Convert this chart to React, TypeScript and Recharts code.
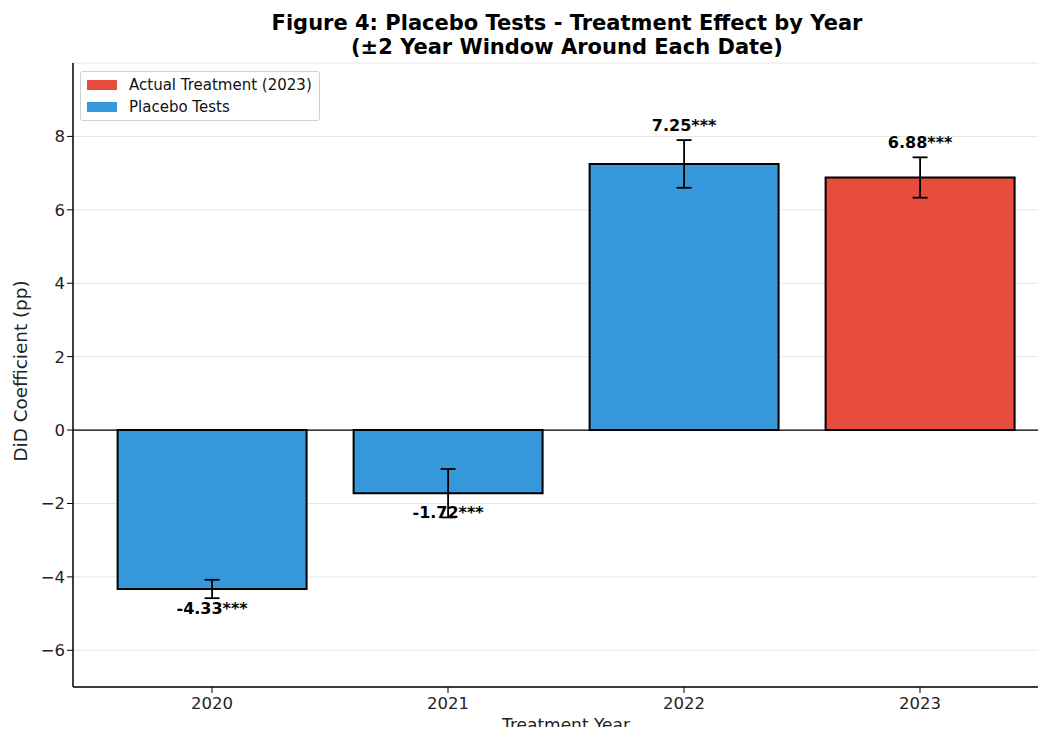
import React from 'react';
import {
  BarChart,
  Bar,
  Cell,
  XAxis,
  YAxis,
  CartesianGrid,
  ErrorBar,
  LabelList,
  ReferenceLine,
} from 'recharts';

const years = ['2020', '2021', '2022', '2023'];
const coefficients = [-4.33, -1.72, 7.25, 6.88];
const errors = [0.25, 0.66, 0.65, 0.55];
const stars = ['***', '***', '***', '***'];
const treatmentYear = '2023';
const yTicks = [-6, -4, -2, 0, 2, 4, 6, 8];

const BLUE = '#3498db';
const RED = '#e74c3c';
const FONT = '"DejaVu Sans", sans-serif';

const data = years.map((year, i) => ({
  year,
  coef: coefficients[i],
  err: errors[i],
  label: `${coefficients[i].toFixed(2)}${stars[i]}`,
}));

// value label: above the error bar for positives, just under the bar for negatives
function BarValueLabel(props: any) {
  const { x, y, width, height, index } = props;
  const d = data[index];
  if (!d || !height) return null;
  const top = Math.min(y, y + height);
  const bottom = Math.max(y, y + height);
  const pxPerUnit = Math.abs(height) / Math.abs(d.coef);
  const zeroY = d.coef >= 0 ? bottom : top;
  const target = d.coef >= 0 ? d.coef + d.err + 0.25 : d.coef - 0.36;
  const ty = zeroY - target * pxPerUnit;
  return (
    <text
      x={x + width / 2}
      y={ty}
      textAnchor="middle"
      dominantBaseline={d.coef >= 0 ? 'auto' : 'hanging'}
      fontFamily={FONT}
      fontWeight="bold"
      fontSize={16}
      fill="#000"
    >
      {d.label}
    </text>
  );
}

function LegendBox() {
  const items = [
    { name: 'Actual Treatment (2023)', color: RED },
    { name: 'Placebo Tests', color: BLUE },
  ];
  return (
    <div
      style={{
        position: 'absolute',
        top: 71,
        left: 80,
        border: '1px solid #d0d0d0',
        borderRadius: 3,
        background: 'rgba(255,255,255,0.85)',
        padding: '2px 7px 2px 6px',
        fontFamily: FONT,
        fontSize: 15,
        color: '#111',
        whiteSpace: 'nowrap',
      }}
    >
      {items.map((it) => (
        <div key={it.name} style={{ display: 'flex', alignItems: 'center', height: 22 }}>
          <span
            style={{
              display: 'inline-block',
              width: 30,
              height: 10,
              background: it.color,
              marginRight: 12,
              flexShrink: 0,
            }}
          />
          {it.name}
        </div>
      ))}
    </div>
  );
}

export default function App() {
  return (
    <div
      style={{
        position: 'relative',
        margin: -8,
        width: 1046,
        height: 735,
        overflow: 'hidden',
        background: '#fff',
        fontFamily: FONT,
      }}
    >
      <div
        style={{
          position: 'absolute',
          top: 11,
          left: 0,
          width: 1134,
          textAlign: 'center',
          fontWeight: 'bold',
          fontSize: 21,
          lineHeight: '24px',
          color: '#000',
        }}
      >
        Figure 4: Placebo Tests - Treatment Effect by Year
        <br />
        (±2 Year Window Around Each Date)
      </div>
      <div style={{ position: 'absolute', top: 0, left: 0 }}>
        <BarChart
          width={1080}
          height={735}
          data={data}
          margin={{ top: 63, right: 16, bottom: 18, left: 13 }}
          barCategoryGap="10%"
        >
          <CartesianGrid vertical={false} stroke="#e6e6e6" strokeWidth={1} />
          <XAxis
            dataKey="year"
            padding={{ left: 21, right: 26 }}
            height={30}
            tickSize={6}
            tickLine={{ stroke: '#000' }}
            axisLine={{ stroke: '#000', strokeWidth: 1.5 }}
            tick={{ fontFamily: FONT, fontSize: 16.5, fill: '#222', dy: 2 }}
          />
          <XAxis
            xAxisId="top"
            orientation="top"
            dataKey="year"
            height={0}
            tick={false}
            tickLine={false}
            axisLine={{ stroke: '#000', strokeWidth: 1.5 }}
          />
          <YAxis
            width={60}
            domain={[-7, 10]}
            ticks={yTicks}
            allowDataOverflow
            tickSize={6}
            tickLine={{ stroke: '#000' }}
            axisLine={{ stroke: '#000', strokeWidth: 1.5 }}
            tick={{ fontFamily: FONT, fontSize: 16.5, fill: '#222' }}
            tickFormatter={(v: number) => (v < 0 ? `\u2212${Math.abs(v)}` : `${v}`)}
          />
          <ReferenceLine y={0} stroke="#000" strokeWidth={1.2} />
          <Bar dataKey="coef" stroke="#000" strokeWidth={2} isAnimationActive={false}>
            {data.map((d) => (
              <Cell key={d.year} fill={d.year === treatmentYear ? RED : BLUE} />
            ))}
            <ErrorBar dataKey="err" width={7.5} stroke="#000" strokeWidth={1.8} direction="y" />
            <LabelList dataKey="label" content={BarValueLabel} />
          </Bar>
        </BarChart>
      </div>
      <LegendBox />
      <div
        style={{
          position: 'absolute',
          left: 21,
          top: 371,
          transform: 'translate(-50%, -50%) rotate(-90deg) scaleX(1.08)',
          whiteSpace: 'nowrap',
          fontSize: 17,
          color: '#222',
        }}
      >
        DiD Coefficient (pp)
      </div>
      <div
        style={{
          position: 'absolute',
          left: 566,
          top: 716,
          transform: 'translateX(-50%)',
          whiteSpace: 'nowrap',
          fontSize: 17,
          lineHeight: '18px',
          color: '#222',
        }}
      >
        Treatment Year
      </div>
    </div>
  );
}
